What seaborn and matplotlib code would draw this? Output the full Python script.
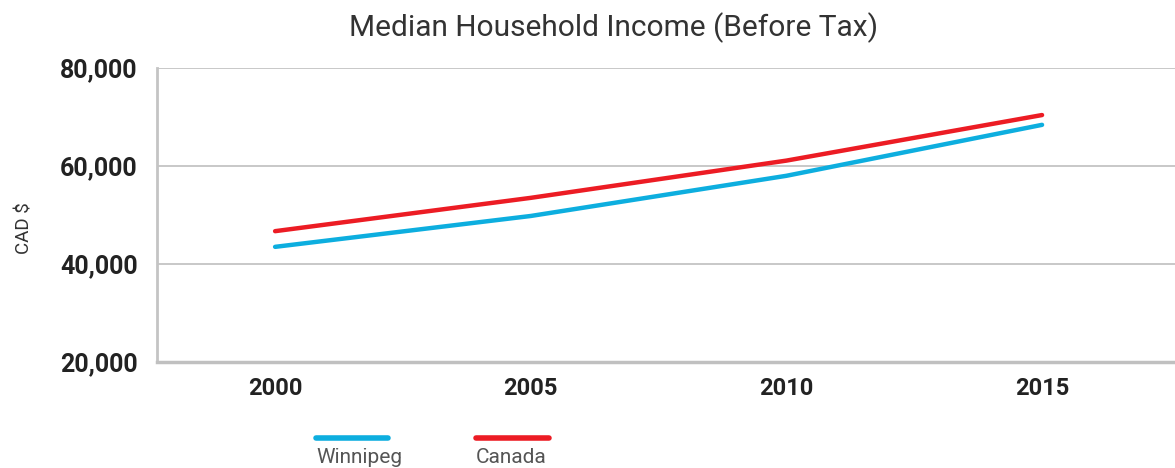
import matplotlib
matplotlib.use("Agg")
import matplotlib.pyplot as plt
import seaborn as sns
import pandas as pd
from matplotlib.lines import Line2D

years = [2000, 2005, 2010, 2015]
winnipeg = [43500, 49800, 58000, 68400]
canada = [46700, 53500, 61100, 70400]
series_names = ["Winnipeg", "Canada"]
colors = {"Winnipeg": "#0DAEDF", "Canada": "#EC1C24"}
y_ticks = [20000, 40000, 60000, 80000]

df = pd.DataFrame({
    "year": years * 2,
    "income": winnipeg + canada,
    "series": ["Winnipeg"] * len(years) + ["Canada"] * len(years),
})

sns.set_style("white")
plt.rcParams["font.family"] = ["Roboto", "DejaVu Sans"]

fig = plt.figure(figsize=(11.75, 4.68), dpi=100)
ax = fig.add_axes([0.1336, 0.2265, 0.8664, 0.6282])

sns.lineplot(data=df, x="year", y="income", hue="series", palette=colors,
             hue_order=series_names, linewidth=3.2, ax=ax, legend=False,
             solid_capstyle="round")

ax.set_xlim(1997.69, 2017.6)
ax.set_ylim(20000, 80000)
ax.set_yticks(y_ticks)
ax.set_yticklabels([f"{v:,}" for v in y_ticks])
ax.set_xticks(years)
ax.set_xticklabels([str(y) for y in years])
ax.yaxis.grid(True, color="#c8c8c8", linewidth=1.4)
ax.xaxis.grid(False)
for s in ["top", "right"]:
    ax.spines[s].set_visible(False)
ax.spines["left"].set_color("#c4c4c4")
ax.spines["left"].set_linewidth(2)
ax.spines["bottom"].set_color("#c0c0c0")
ax.spines["bottom"].set_linewidth(2.5)
ax.tick_params(axis="y", length=0, pad=14, labelsize=18, labelcolor="#222222")
ax.tick_params(axis="x", length=0, pad=11, labelsize=17, labelcolor="#222222")
for lbl in ax.get_yticklabels() + ax.get_xticklabels():
    lbl.set_fontweight("bold")

ax.set_xlabel("")
ax.set_ylabel("CAD $", fontsize=13.5, color="#333333")
ax.yaxis.set_label_coords(-0.121, 0.456)

fig.text(0.522, 0.94, "Median Household Income (Before Tax)", ha="center",
         va="center", fontsize=21.5, color="#333333")

# legend: line above label
leg_items = [("Winnipeg", 0.269, 0.330), ("Canada", 0.405, 0.467)]
for name, x0, x1 in leg_items:
    fig.add_artist(Line2D([x0, x1], [0.064, 0.064], transform=fig.transFigure,
                          color=colors[name], linewidth=4, solid_capstyle="round"))
    fig.text(x0, 0.022, name, ha="left", va="center", fontsize=15, color="#555555")

fig.savefig("out.png", dpi=100)
